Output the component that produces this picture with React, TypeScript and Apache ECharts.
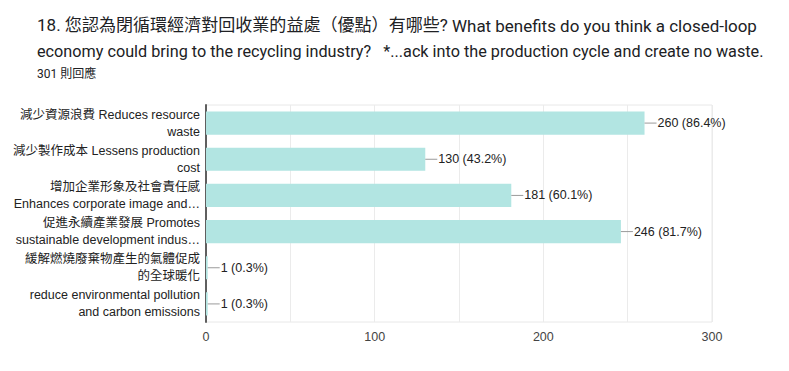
import React, { useEffect, useRef } from "react";
import * as echarts from "echarts";

const titleLine1a = "18. 您認為閉循環經濟對回收業的益處（優點）有哪些?";
const titleLine1b = "What benefits do you think a closed-loop";
const titleLine2 =
  "economy could bring to the recycling industry?   *...ack into the production cycle and create no waste.";
const responseText = "301 則回應";

const categories = [
  "減少資源浪費 Reduces resource\nwaste",
  "減少製作成本 Lessens production\ncost",
  "增加企業形象及社會責任感\nEnhances corporate image and…",
  "促進永續產業發展 Promotes\nsustainable development indus…",
  "緩解燃燒廢棄物產生的氣體促成\n的全球暖化",
  "reduce environmental pollution\nand carbon emissions",
];
const counts = [260, 130, 181, 246, 1, 1];
const percents = ["86.4", "43.2", "60.1", "81.7", "0.3", "0.3"];
const xTicks = [0, 100, 200, 300];

export default function App() {
  const ref = useRef<HTMLDivElement>(null);
  useEffect(() => {
    document.body.style.margin = "0";
    const chart = echarts.init(ref.current!, null, { renderer: "svg" });
    const font = "Roboto, 'Noto Sans CJK TC', sans-serif";
    const labelFont = "'Liberation Sans', Arial, 'Noto Sans CJK TC', sans-serif";
    const ctx = document.createElement("canvas").getContext("2d")!;
    const fitted = (text: string, size: number, x0: number, x1: number, top: number) => {
      const f = `${size}px ${font}`;
      ctx.font = f;
      const w = ctx.measureText(text).width || 1;
      return {
        type: "text",
        x: x0,
        y: top,
        scaleX: (x1 - x0) / w,
        style: { text, font: f, fill: "#202124", x: 0, y: 0, verticalAlign: "top" },
      };
    };
    chart.setOption({
      animation: false,
      backgroundColor: "#ffffff",
      graphic: [
        fitted(titleLine1a, 17, 37, 448, 17),
        fitted(titleLine1b, 17, 452, 757, 17),
        fitted(titleLine2, 17, 37, 764, 43),
        {
          type: "text",
          x: 37,
          y: 68,
          style: { text: responseText, font: `12px ${font}`, fill: "#202124", verticalAlign: "top" },
        },
      ],
      grid: {
        left: 206,
        right: 77,
        top: 105,
        bottom: 49,
        show: true,
        borderColor: "#e8e8e8",
        borderWidth: 1,
        containLabel: false,
      },
      xAxis: {
        type: "value",
        min: 0,
        max: 300,
        interval: 50,
        axisLine: { show: false },
        axisTick: { show: false },
        splitLine: { show: true, lineStyle: { color: "#ebebeb", width: 1 } },
        axisLabel: {
          color: "#444",
          fontSize: 12.5,
          fontFamily: labelFont,
          margin: 9,
          formatter: (v: number) => (xTicks.includes(v) ? String(v) : ""),
        },
      },
      yAxis: {
        type: "category",
        inverse: true,
        data: categories,
        axisLine: { show: true, lineStyle: { color: "#5f5f5f", width: 2 } },
        axisTick: { show: false },
        axisLabel: {
          color: "#222",
          fontSize: 12.5,
          lineHeight: 17,
          fontFamily: labelFont,
          align: "right",
          margin: 6,
        },
      },
      series: [
        {
          type: "bar",
          data: counts,
          barCategoryGap: "36%",
          itemStyle: { color: "#b2e5e2" },
          label: {
            show: true,
            position: "right",
            distance: 0,
            formatter: (p: any) => `{l|}{t|${counts[p.dataIndex]} (${percents[p.dataIndex]}%)}`,
            rich: {
              l: { width: 12, height: 1, backgroundColor: "#9a9a9a" },
              t: { fontSize: 12.5, color: "#222", fontFamily: labelFont, padding: [0, 0, 0, 1] },
            },
          },
        },
      ],
    });
    return () => chart.dispose();
  }, []);
  return <div ref={ref} style={{ width: 789, height: 371 }} />;
}
